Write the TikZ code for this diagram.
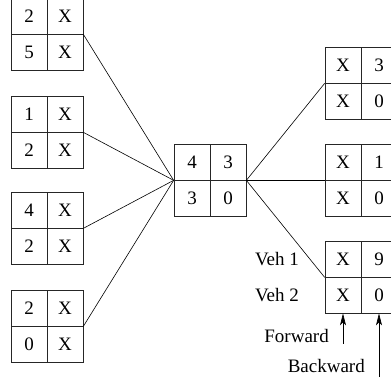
\documentclass[tikz,border=0pt]{standalone}
\usepackage{fontspec}
\setmainfont{Liberation Serif}
\usetikzlibrary{arrows.meta}
\begin{document}
\begin{tikzpicture}[x=1pt,y=-1pt,
  cell/.style={draw=black!85,line width=0.7pt,minimum width=36pt,minimum height=36pt,inner sep=0pt,font=\fontsize{19}{22}\selectfont},
  lbl/.style={inner sep=0pt,font=\fontsize{19}{22}\selectfont},
  link/.style={line width=0.6pt},
  arr/.style={line width=0.7pt,-{Stealth[length=12pt,width=6pt,inset=3pt]}}]
\useasboundingbox (0,0) rectangle (391,387);
% left boxes
\node[cell] (l1a) at (29,16) {2};  \node[cell] (l1b) at (65,16) {X};
\node[cell] (l1c) at (29,52) {5};  \node[cell] (l1d) at (65,52) {X};
\node[cell] (l2a) at (29,114) {1}; \node[cell] (l2b) at (65,114) {X};
\node[cell] (l2c) at (29,150) {2}; \node[cell] (l2d) at (65,150) {X};
\node[cell] (l3a) at (29,210) {4}; \node[cell] (l3b) at (65,210) {X};
\node[cell] (l3c) at (29,246) {2}; \node[cell] (l3d) at (65,246) {X};
\node[cell] (l4a) at (29,308) {2}; \node[cell] (l4b) at (65,308) {X};
\node[cell] (l4c) at (29,344) {0}; \node[cell] (l4d) at (65,344) {X};
% center box
\node[cell] (ca) at (192,162) {4}; \node[cell] (cb) at (228,162) {3};
\node[cell] (cc) at (192,198) {3}; \node[cell] (cd) at (228,198) {0};
% right boxes
\node[cell] (r1a) at (343,65) {X};  \node[cell] (r1b) at (379,65) {3};
\node[cell] (r1c) at (343,101) {X}; \node[cell] (r1d) at (379,101) {0};
\node[cell] (r2a) at (343,162) {X}; \node[cell] (r2b) at (379,162) {1};
\node[cell] (r2c) at (343,198) {X}; \node[cell] (r2d) at (379,198) {0};
\node[cell] (r3a) at (343,259) {X}; \node[cell] (r3b) at (379,259) {9};
\node[cell] (r3c) at (343,295) {X}; \node[cell] (r3d) at (379,295) {0};
% connectors
\foreach \b in {l1b,l2b,l3b,l4b} \draw[link] (\b.south east) -- (ca.south west);
\foreach \b in {r1a,r2a,r3a} \draw[link] (cb.south east) -- (\b.south west);
% labels
\node[lbl,anchor=base east] (v1) at (299,265.5) {Veh 1};
\node[lbl,anchor=base east] (v2) at (299,302) {Veh 2};
\node[lbl,anchor=base east] (fw) at (329,343) {Forward};
\node[lbl,anchor=base east] (bw) at (365,373) {Backward};
\coordinate (fwe) at (343,344);
\coordinate (bwe) at (379,377);
\draw[arr] (fwe) -- (r3c.south);
\draw[arr] (bwe) -- (r3d.south);
\end{tikzpicture}
\end{document}
